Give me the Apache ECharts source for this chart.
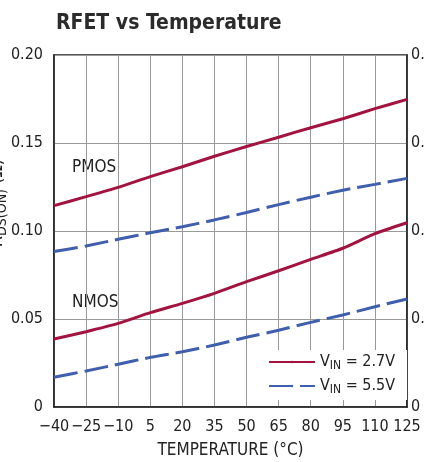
<!DOCTYPE html>
<html>
<head>
<meta charset="utf-8">
<script src="https://cdn.jsdelivr.net/npm/echarts@6/dist/echarts.min.js"></script>
<style>
  html, body { margin: 0; padding: 0; background: #fff; }
  #main { width: 425px; height: 462px; }
</style>
</head>
<body>
<div id="main"></div>
<script>
// temperature ticks (°C)
var temps = [-40, -25, -10, 5, 20, 35, 50, 65, 80, 95, 110, 125];
// RDS(ON) in ohms at each tick
var pmos27 = [0.1144, 0.1195, 0.1248, 0.1309, 0.1365, 0.1425, 0.148, 0.1533, 0.1587, 0.1638, 0.1695, 0.1748];
var pmos55 = [0.0883, 0.0915, 0.0953, 0.099, 0.1024, 0.1063, 0.1105, 0.115, 0.1192, 0.1232, 0.1265, 0.1299];
var nmos27 = [0.0386, 0.0428, 0.0475, 0.0536, 0.0589, 0.0646, 0.0712, 0.0774, 0.0839, 0.0902, 0.0985, 0.1047];
var nmos55 = [0.0169, 0.0205, 0.0243, 0.0282, 0.0314, 0.0352, 0.0396, 0.0436, 0.0481, 0.0523, 0.057, 0.0614];

var FONT = '"Liberation Sans Narrow", "DejaVu Sans Condensed", "Arial Narrow", sans-serif';
var RED = '#a3133f';
var BLUE = '#3f5eac';
var INK = '#222';

var chart = echarts.init(document.getElementById('main'));

function yLabel(v) {
    return v === 0 ? '0' : v.toFixed(2);
}

function lineSeries(name, data, color, dashed) {
    return {
        name: name,
        type: 'line',
        data: data,
        smooth: 0.2,
        symbol: 'none',
        lineStyle: { color: color, width: 3, type: dashed ? [24, 7] : 'solid' },
        itemStyle: { color: color },
        z: 3
    };
}

chart.setOption({
    backgroundColor: '#fff',
    animation: false,
    title: {
        text: 'RFET vs Temperature',
        left: 51,
        top: 8,
        textStyle: { fontFamily: FONT, fontSize: 21, fontWeight: 'bold', color: '#2b2b2b' }
    },
    grid: {
        left: 54, right: 18, top: 55, bottom: 55,
        outerBoundsMode: 'none',
        containLabel: false,
        show: true, borderColor: INK, borderWidth: 1.5
    },
    legend: {
        orient: 'vertical',
        left: 264,
        top: 350,
        itemWidth: 46,
        itemHeight: 3,
        itemGap: 6,
        padding: [4, 12, 4, 4],
        backgroundColor: '#fff',
        data: ['2.7V', '5.5V'],
        formatter: function (name) {
            return '{v|V}{s|IN}{v| = ' + name + '}';
        },
        textStyle: {
            color: INK,
            rich: {
                v: { fontFamily: FONT, fontSize: 16, color: INK },
                s: { fontFamily: FONT, fontSize: 12, color: INK, padding: [8, 0, 0, 0] }
            }
        }
    },
    xAxis: {
        type: 'category',
        data: temps,
        boundaryGap: false,
        name: 'TEMPERATURE (°C)',
        nameLocation: 'middle',
        nameGap: 35,
        nameMoveOverlap: false,
        nameTextStyle: { fontFamily: FONT, fontSize: 17, color: INK },
        axisLine: { lineStyle: { color: INK, width: 1.5 } },
        axisTick: { show: false },
        axisLabel: {
            interval: 0,
            margin: 12,
            hideOverlap: false,
            fontFamily: FONT, fontSize: 16, color: INK,
            formatter: function (v) { return String(v).replace('-', '\u2212'); }
        },
        splitLine: { show: true, lineStyle: { color: '#999', width: 1 } }
    },
    yAxis: [{
        type: 'value',
        min: 0, max: 0.2, interval: 0.05,
        name: '{r|R}{s|DS(ON)}{r| (Ω)}',
        nameLocation: 'middle',
        nameGap: 45,
        nameRotate: 90,
        nameMoveOverlap: false,
        nameTextStyle: {
            fontFamily: FONT, fontSize: 18, color: INK,
            padding: [0, 0, 0, 56],
            rich: {
                r: { fontFamily: FONT, fontSize: 18, color: INK },
                s: { fontFamily: FONT, fontSize: 14, color: INK, padding: [9, 0, 0, 0] }
            }
        },
        axisLine: { show: true, lineStyle: { color: INK, width: 1.5 } },
        axisTick: { show: false },
        axisLabel: { margin: 11, fontFamily: FONT, fontSize: 16, color: INK, formatter: yLabel },
        splitLine: { show: true, lineStyle: { color: '#999', width: 1 } }
    }, {
        type: 'value',
        position: 'right',
        min: 0, max: 0.2, interval: 0.05,
        axisLine: { show: true, lineStyle: { color: INK, width: 1.5 } },
        axisTick: { show: false },
        axisLabel: { margin: 4, fontFamily: FONT, fontSize: 16, color: INK, formatter: yLabel },
        splitLine: { show: false }
    }],
    graphic: [
        { type: 'text', left: 72, top: 159, style: { text: 'PMOS', font: '17px ' + FONT, fill: INK } },
        { type: 'text', left: 72, top: 294, style: { text: 'NMOS', font: '17px ' + FONT, fill: INK } }
    ],
    series: [
        lineSeries('2.7V', pmos27, RED, false),
        lineSeries('5.5V', pmos55, BLUE, true),
        lineSeries('2.7V', nmos27, RED, false),
        lineSeries('5.5V', nmos55, BLUE, true)
    ]
});
</script>
</body>
</html>
